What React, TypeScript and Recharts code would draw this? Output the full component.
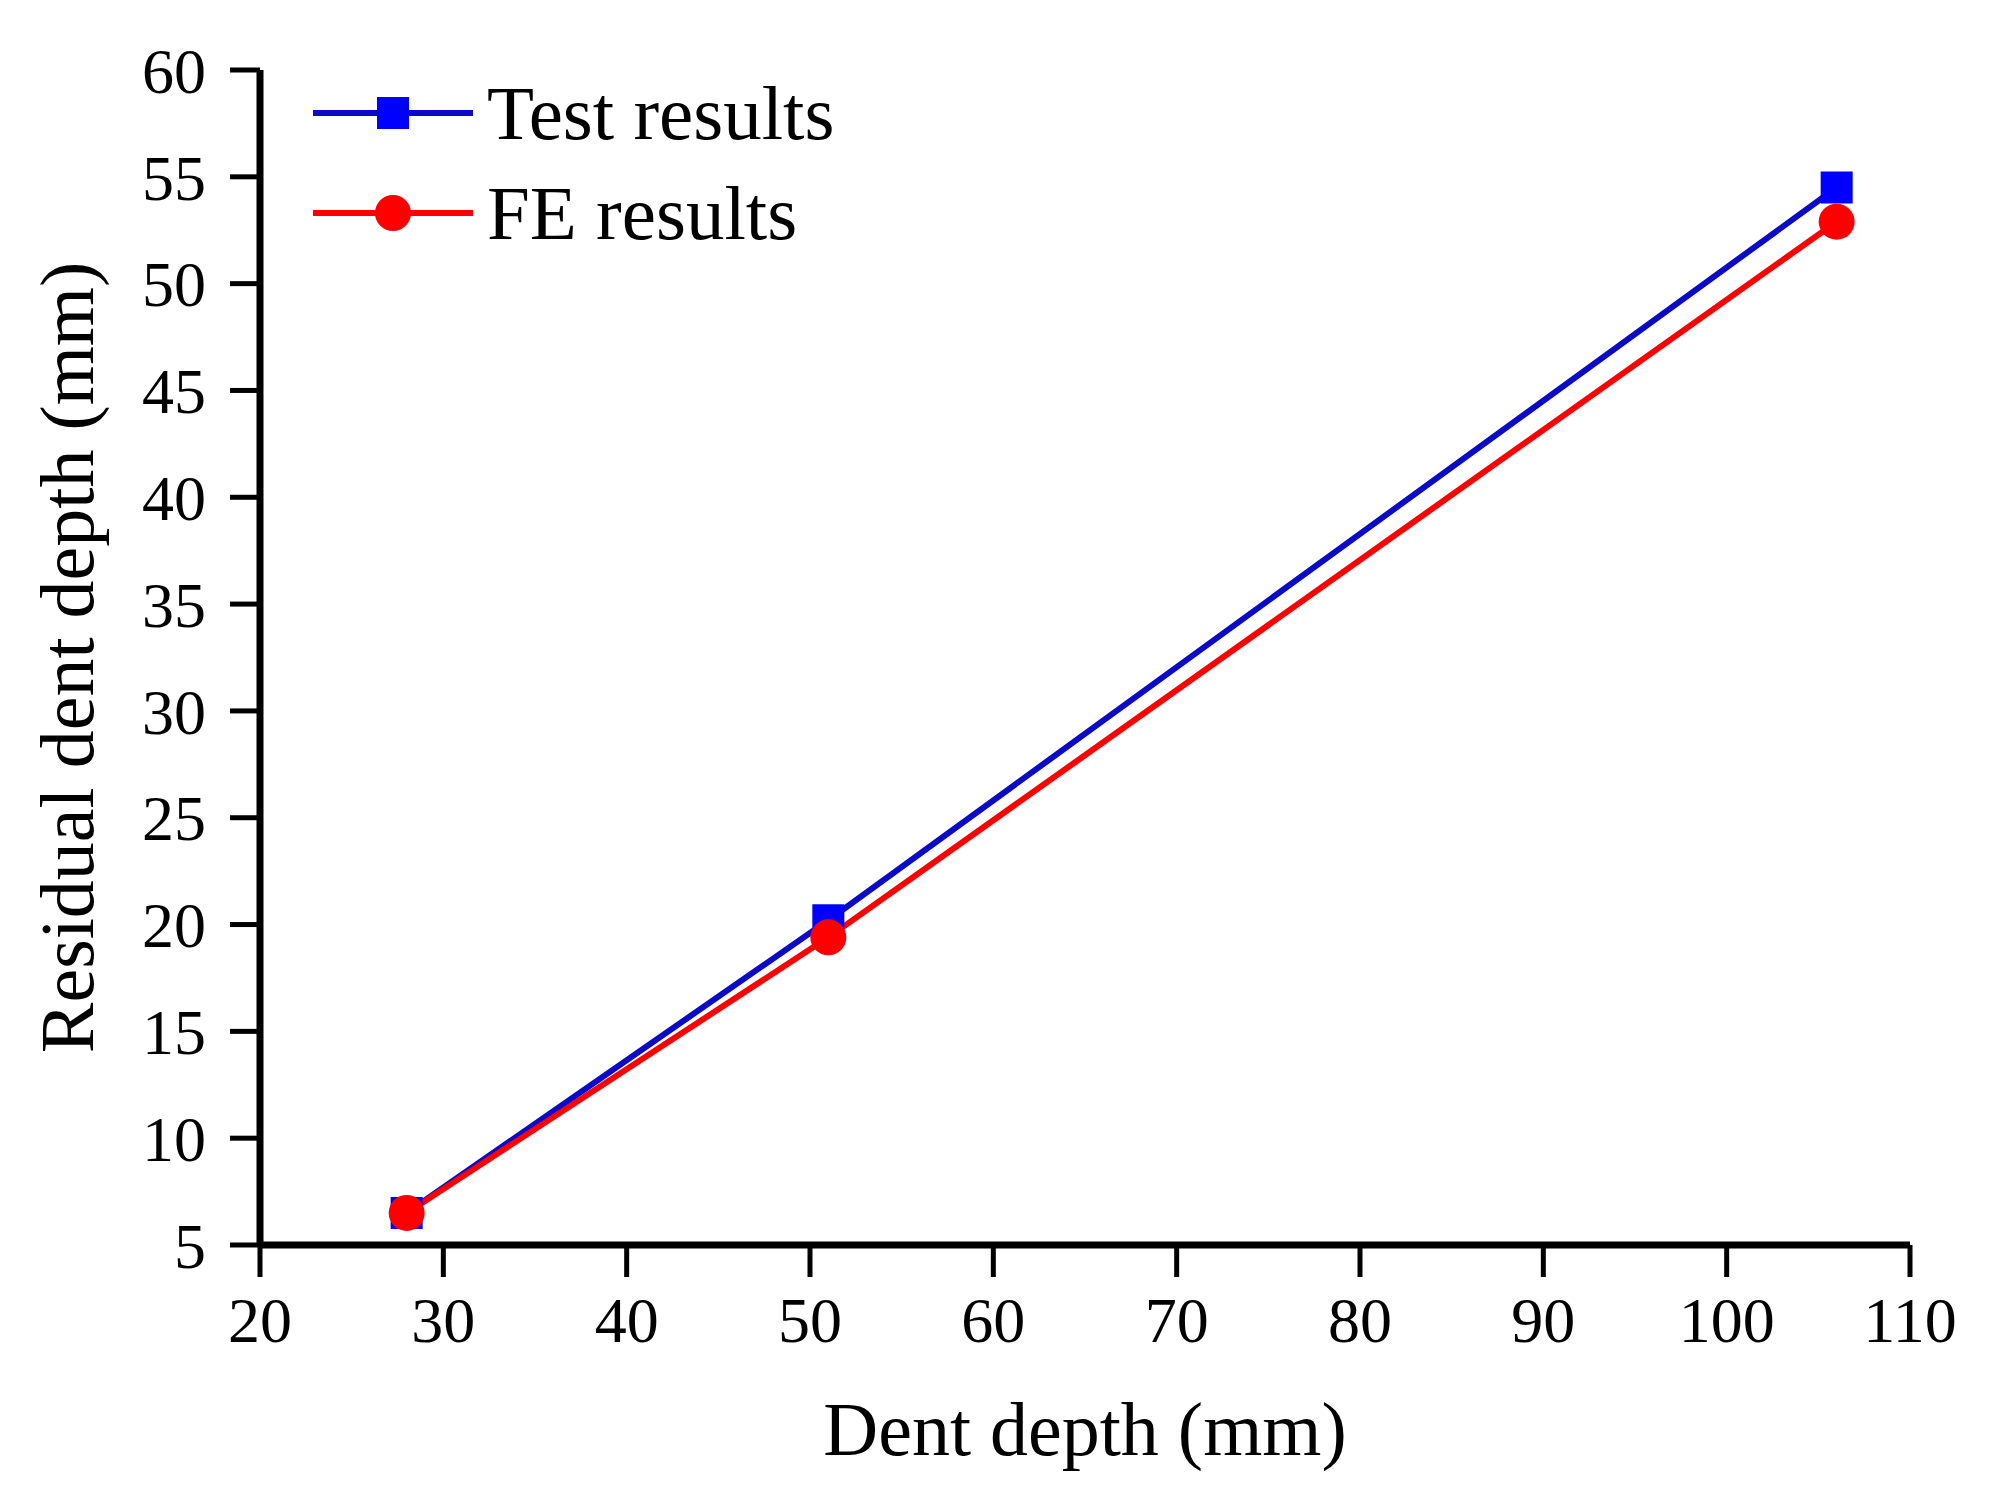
import { LineChart, Line, XAxis, YAxis } from "recharts";

// values
const dentDepth = [28, 51, 106];
const testResults = [6.5, 20.2, 54.5];
const feResults = [6.5, 19.4, 52.9];

const xTicks = [20, 30, 40, 50, 60, 70, 80, 90, 100, 110];
const yTicks = [5, 10, 15, 20, 25, 30, 35, 40, 45, 50, 55, 60];

const FONT = '"Liberation Serif", "Times New Roman", serif';
const BLUE = "#0000ff";
const BLUE_LINE = "#0a0ac8";
const RED = "#ff0000";

const data = dentDepth.map((d, i) => ({ x: d, test: testResults[i], fe: feResults[i] }));

function squareDot(props: any) {
  const { cx, cy, index } = props;
  if (cx == null || cy == null) return <g key={`sq-${index}`} />;
  return <rect key={`sq-${index}`} x={cx - 16} y={cy - 16} width={32} height={32} fill={BLUE} />;
}

function circleDot(props: any) {
  const { cx, cy, index } = props;
  if (cx == null || cy == null) return <g key={`ci-${index}`} />;
  return <circle key={`ci-${index}`} cx={cx} cy={cy} r={18} fill={RED} />;
}

const legendRows = [
  { label: "Test results", line: BLUE_LINE, marker: "square" },
  { label: "FE results", line: RED, marker: "circle" },
];

// legend drawn as an overlay so it doesn't shift the plot area
function LegendBox() {
  return (
    <div style={{ position: "absolute", top: 55, left: 305, fontFamily: FONT, fontSize: 77, color: "#000" }}>
      {legendRows.map((r) => (
        <div key={r.label} style={{ display: "flex", alignItems: "center", height: 100 }}>
          <svg width={162} height={40} style={{ marginRight: 12 }}>
            <line x1={0} y1={20} x2={160} y2={20} stroke={r.line} strokeWidth={6} />
            {r.marker === "square" ? (
              <rect x={64} y={4} width={32} height={32} fill={BLUE} />
            ) : (
              <circle cx={80} cy={20} r={18} fill={RED} />
            )}
          </svg>
          <span style={{ lineHeight: 1, whiteSpace: "nowrap" }}>{r.label}</span>
        </div>
      ))}
    </div>
  );
}

export default function App() {
  return (
    <div style={{ position: "relative", width: 1975, height: 1486, background: "#fff" }}>
      <LineChart
        width={1975}
        height={1486}
        data={data}
        margin={{ top: 62, right: 73, left: 40, bottom: 19 }}
      >
        <XAxis
          dataKey="x"
          type="number"
          domain={[20, 110]}
          ticks={xTicks}
          height={230}
          tickSize={32}
          tickMargin={20}
          axisLine={{ stroke: "#000", strokeWidth: 7 }}
          tickLine={{ stroke: "#000", strokeWidth: 5 }}
          tick={{ fill: "#000", fontSize: 64, fontFamily: FONT }}
          interval={0}
          label={{
            value: "Dent depth (mm)",
            position: "insideBottom",
            offset: 20,
            style: { fill: "#000", fontSize: 76, fontFamily: FONT },
          }}
        />
        <YAxis
          type="number"
          domain={[5, 60]}
          ticks={yTicks}
          width={212}
          tickSize={30}
          tickMargin={24}
          axisLine={{ stroke: "#000", strokeWidth: 7 }}
          tickLine={{ stroke: "#000", strokeWidth: 5 }}
          tick={{ fill: "#000", fontSize: 64, fontFamily: FONT }}
          interval={0}
          label={{
            value: "Residual dent depth (mm)",
            angle: -90,
            position: "insideLeft",
            offset: 18,
            style: { fill: "#000", fontSize: 76, fontFamily: FONT, textAnchor: "middle" },
          }}
        />
        <Line
          dataKey="test"
          stroke={BLUE_LINE}
          strokeWidth={6}
          dot={squareDot}
          activeDot={false}
          isAnimationActive={false}
        />
        <Line
          dataKey="fe"
          stroke={RED}
          strokeWidth={6}
          dot={circleDot}
          activeDot={false}
          isAnimationActive={false}
        />
      </LineChart>
      <LegendBox />
    </div>
  );
}
